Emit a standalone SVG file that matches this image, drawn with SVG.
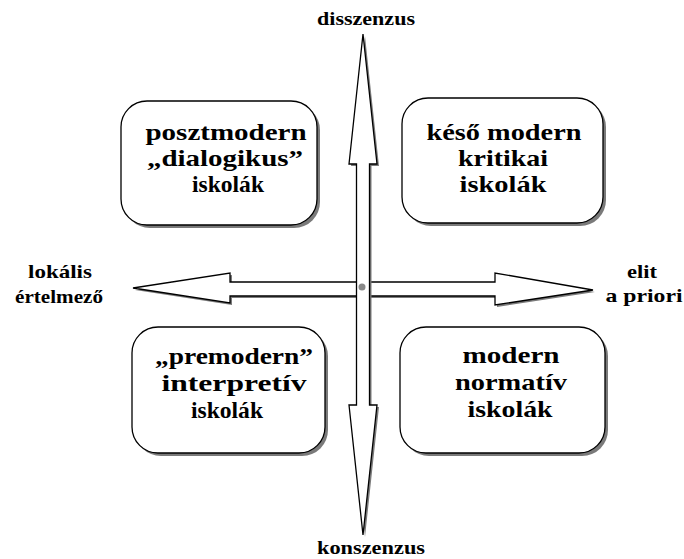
<svg xmlns="http://www.w3.org/2000/svg" width="684" height="559" viewBox="0 0 684 559">
<style>
.box{fill:#fff;stroke:#000;stroke-width:1.3}
.shadow{fill:#7a7a7a}
.arr{fill:#fff;stroke:#000;stroke-width:1.3;stroke-linejoin:miter}
.t{font-family:"Liberation Serif","Times New Roman",serif;font-weight:bold;font-size:24px;fill:#000;text-anchor:middle}
.ax{font-family:"Liberation Serif","Times New Roman",serif;font-weight:bold;font-size:19px;fill:#000;text-anchor:middle}
</style>
<rect width="684" height="559" fill="#fff"/>
<g id="connectors">
  <g id="h-arrow">
    <polygon class="shadow" transform="translate(2,2)" points="133,288 230,273 230,282 495,282 495,273 593,290 495,305 495,296 230,296 230,303"/>
    <polygon class="arr" points="133,288 230,273 230,282 495,282 495,273 593,290 495,305 495,296 230,296 230,303"/>
  </g>
  <g id="v-arrow">
    <polygon class="shadow" transform="translate(2,2)" points="363,34 377,164 369.5,164 369.5,405 377,405 363,535 349,405 356.5,405 356.5,164 349,164"/>
    <polygon class="arr" points="363,34 377,164 369.5,164 369.5,405 377,405 363,535 349,405 356.5,405 356.5,164 349,164"/>
  </g>
  <circle cx="362" cy="287" r="3.5" fill="#888"/>
</g>
<g id="node-tl">
  <rect class="shadow" x="124" y="104" width="196" height="124" rx="26"/>
  <rect class="box" x="121" y="101" width="196" height="124" rx="26"/>
  <text class="t" x="226" y="140" textLength="161" lengthAdjust="spacingAndGlyphs">posztmodern</text>
  <text class="t" x="225" y="166" textLength="156" lengthAdjust="spacingAndGlyphs">„dialogikus”</text>
  <text class="t" x="228" y="192" textLength="72" lengthAdjust="spacingAndGlyphs">iskolák</text>
</g>
<g id="node-tr">
  <rect class="shadow" x="405" y="101" width="201" height="125" rx="26"/>
  <rect class="box" x="402" y="98" width="201" height="125" rx="26"/>
  <text class="t" x="504" y="140" textLength="155" lengthAdjust="spacingAndGlyphs">késő modern</text>
  <text class="t" x="503" y="166" textLength="90" lengthAdjust="spacingAndGlyphs">kritikai</text>
  <text class="t" x="503" y="192" textLength="87" lengthAdjust="spacingAndGlyphs">iskolák</text>
</g>
<g id="node-bl">
  <rect class="shadow" x="135" y="330" width="193" height="126" rx="26"/>
  <rect class="box" x="132" y="327" width="193" height="126" rx="26"/>
  <text class="t" x="234" y="364" textLength="158" lengthAdjust="spacingAndGlyphs">„premodern”</text>
  <text class="t" x="234" y="391" textLength="145" lengthAdjust="spacingAndGlyphs">interpretív</text>
  <text class="t" x="227" y="418" textLength="72" lengthAdjust="spacingAndGlyphs">iskolák</text>
</g>
<g id="node-br">
  <rect class="shadow" x="403" y="330" width="205" height="126" rx="26"/>
  <rect class="box" x="400" y="327" width="205" height="126" rx="26"/>
  <text class="t" x="511" y="363" textLength="97" lengthAdjust="spacingAndGlyphs">modern</text>
  <text class="t" x="511" y="390" textLength="112" lengthAdjust="spacingAndGlyphs">normatív</text>
  <text class="t" x="510" y="417" textLength="85" lengthAdjust="spacingAndGlyphs">iskolák</text>
</g>
<g id="label-top"><text class="ax" x="366" y="25" textLength="98" lengthAdjust="spacingAndGlyphs">disszenzus</text></g>
<g id="label-bottom"><text class="ax" x="371" y="554" textLength="108" lengthAdjust="spacingAndGlyphs">konszenzus</text></g>
<g id="label-left">
  <text class="ax" x="60" y="278" textLength="64" lengthAdjust="spacingAndGlyphs">lokális</text>
  <text class="ax" x="59" y="303" textLength="88" lengthAdjust="spacingAndGlyphs">értelmező</text>
</g>
<g id="label-right">
  <text class="ax" x="642" y="278" textLength="30" lengthAdjust="spacingAndGlyphs">elit</text>
  <text class="ax" x="644" y="302" textLength="77" lengthAdjust="spacingAndGlyphs">a priori</text>
</g>
</svg>
